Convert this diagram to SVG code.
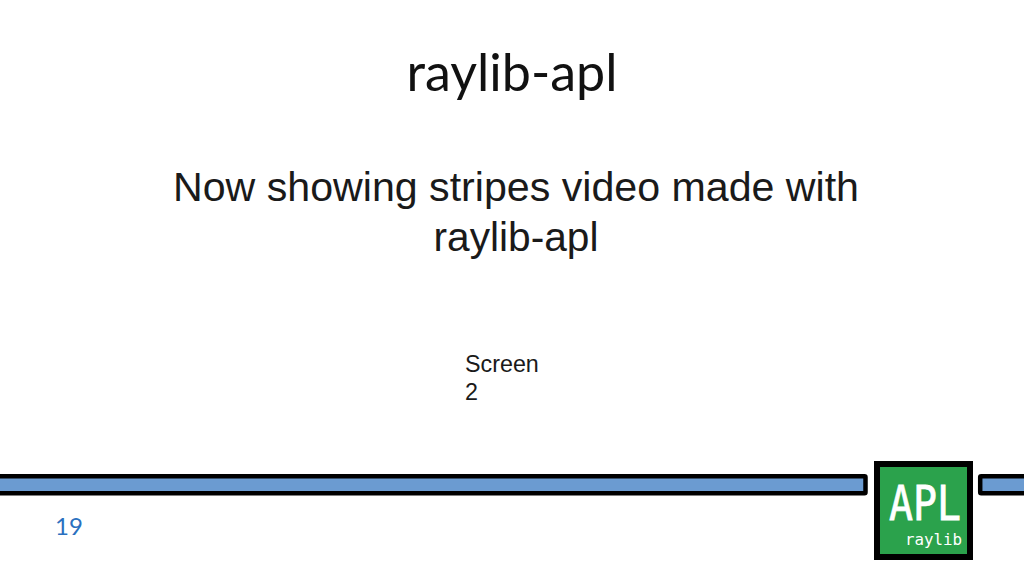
<svg xmlns="http://www.w3.org/2000/svg" width="1024" height="577" viewBox="0 0 1024 577">
<style>
.s{font-family:"Liberation Sans",Arial,sans-serif;fill:#1a1a1a}
.l{font-family:Lato,"Open Sans",sans-serif}
.b{fill:#6b9bd1;stroke:#000;stroke-width:4.5}
.m{font-family:"DejaVu Sans Mono",monospace;fill:#fff}
</style>
<rect width="1024" height="577" fill="#fff"/>
<text class="l" x="512" y="91" font-size="52" text-anchor="middle" fill="#111" textLength="211" lengthAdjust="spacingAndGlyphs">raylib-apl</text>
<text class="s" x="516" y="201" font-size="41" text-anchor="middle" textLength="686" lengthAdjust="spacingAndGlyphs">Now showing stripes video made with</text>
<text class="s" x="516" y="251" font-size="41" text-anchor="middle" textLength="165" lengthAdjust="spacingAndGlyphs">raylib-apl</text>
<text class="s" x="465" y="372" font-size="23.3">Screen</text>
<text class="s" x="465" y="400" font-size="23.3">2</text>
<rect class="b" x="-5" y="476.2" width="870.5" height="17" rx="1"/>
<rect class="b" x="980.2" y="476.2" width="60" height="17" rx="1"/>
<g id="logo">
<rect x="877" y="464" width="93" height="93" fill="#2ba24c" stroke="#000" stroke-width="6"/>
<text class="m" x="889" y="520" font-size="48" textLength="72" lengthAdjust="spacingAndGlyphs" stroke="#fff" stroke-width="0.8">APL</text>
<text class="m" x="905" y="545" font-size="16" textLength="57" lengthAdjust="spacingAndGlyphs">raylib</text>
</g>
<text class="l" x="55" y="534.500" font-size="24" fill="#2a70c0">19</text>
</svg>
